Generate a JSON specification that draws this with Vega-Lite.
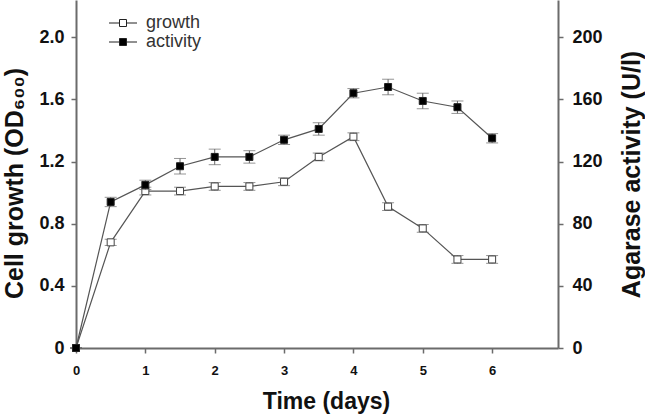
{
  "$schema": "https://vega.github.io/schema/vega-lite/v6.json",
  "width": 482,
  "height": 348,
  "autosize": {"type": "none"},
  "padding": {"left": 76, "top": 0, "right": 87, "bottom": 66},
  "background": "white",
  "config": {
    "view": {"stroke": null},
    "font": "Liberation Sans",
    "axis": {
      "grid": false,
      "labelFlush": false,
      "domainColor": "#6b6b6b",
      "domainWidth": 2,
      "tickColor": "#6b6b6b",
      "tickWidth": 1.5,
      "tickSize": 5,
      "labelFont": "Liberation Sans",
      "labelFontWeight": "bold",
      "labelColor": "#111",
      "titleFont": "Liberation Sans",
      "titleFontWeight": "bold",
      "titleFontSize": 25,
      "titleColor": "#111"
    }
  },
  "data": {
    "values": [
      {"t": 0, "series": "growth", "v": 0, "err": 0},
      {"t": 0.5, "series": "growth", "v": 0.68, "err": 0.02},
      {"t": 1, "series": "growth", "v": 1.01, "err": 0.025},
      {"t": 1.5, "series": "growth", "v": 1.01, "err": 0.025},
      {"t": 2, "series": "growth", "v": 1.04, "err": 0.025},
      {"t": 2.5, "series": "growth", "v": 1.04, "err": 0.025},
      {"t": 3, "series": "growth", "v": 1.07, "err": 0.025},
      {"t": 3.5, "series": "growth", "v": 1.23, "err": 0.025},
      {"t": 4, "series": "growth", "v": 1.36, "err": 0.025},
      {"t": 4.5, "series": "growth", "v": 0.91, "err": 0.025},
      {"t": 5, "series": "growth", "v": 0.77, "err": 0.025},
      {"t": 5.5, "series": "growth", "v": 0.57, "err": 0.025},
      {"t": 6, "series": "growth", "v": 0.57, "err": 0.025},
      {"t": 0, "series": "activity", "v": 0, "err": 0},
      {"t": 0.5, "series": "activity", "v": 94, "err": 3},
      {"t": 1, "series": "activity", "v": 105, "err": 3},
      {"t": 1.5, "series": "activity", "v": 117, "err": 5},
      {"t": 2, "series": "activity", "v": 123, "err": 5},
      {"t": 2.5, "series": "activity", "v": 123, "err": 4},
      {"t": 3, "series": "activity", "v": 134, "err": 3},
      {"t": 3.5, "series": "activity", "v": 141, "err": 4},
      {"t": 4, "series": "activity", "v": 164, "err": 3},
      {"t": 4.5, "series": "activity", "v": 168, "err": 5},
      {"t": 5, "series": "activity", "v": 159, "err": 5},
      {"t": 5.5, "series": "activity", "v": 155, "err": 4},
      {"t": 6, "series": "activity", "v": 135, "err": 3}
    ]
  },
  "layer": [
    {
      "transform": [{"filter": "datum.series == 'growth'"}],
      "encoding": {
        "x": {
          "field": "t", "type": "quantitative",
          "scale": {"domain": [0, 6.95], "nice": false, "zero": false},
          "axis": {
            "values": [0, 1, 2, 3, 4, 5, 6],
            "format": "d",
            "labelFontSize": 13,
            "labelPadding": 11,
            "title": "Time (days)",
            "titleFontSize": 23,
            "titleX": 250,
            "titleY": 53,
            "titleAlign": "center",
            "titleBaseline": "middle"
          }
        },
        "y": {
          "field": "v", "type": "quantitative",
          "scale": {"domain": [0, 2.24], "nice": false},
          "axis": {
            "orient": "left",
            "values": [0, 0.4, 0.8, 1.2, 1.6, 2.0],
            "labelExpr": "datum.value == 0 ? '0' : format(datum.value, '.1f')",
            "labelFontSize": 18,
            "labelPadding": 7,
            "title": "Cell growth (OD₆₀₀)",
            "titleAngle": -90,
            "titleX": -62,
            "titleY": 183,
            "titleAlign": "center",
            "titleBaseline": "middle"
          }
        }
      },
      "layer": [
        {"mark": {"type": "line", "color": "#555", "strokeWidth": 1.2}},
        {
          "mark": {"type": "errorbar", "color": "#666", "thickness": 1, "ticks": {"size": 12, "thickness": 1, "color": "#666"}},
          "encoding": {"yError": {"field": "err"}}
        },
        {
          "mark": {"type": "point", "shape": "square", "size": 49, "filled": true, "stroke": "#444", "strokeWidth": 1, "opacity": 1},
          "encoding": {
            "fill": {
              "field": "series", "type": "nominal",
              "scale": {"domain": ["growth", "activity"], "range": ["white", "black"]},
              "legend": {
                "title": null,
                "orient": "none",
                "legendX": 38,
                "legendY": 14,
                "padding": 0,
                "symbolType": "M-2,0H-0.5M0.5,0H2M-0.5,-0.5H0.5V0.5H-0.5Z",
                "symbolSize": 196,
                "symbolStrokeColor": "#555",
                "symbolStrokeWidth": 1,
                "symbolOpacity": 1,
                "labelFont": "Liberation Sans",
                "labelFontSize": 18,
                "labelColor": "#333",
                "labelOffset": 14,
                "rowPadding": 1
              }
            }
          }
        }
      ]
    },
    {
      "transform": [{"filter": "datum.series == 'activity'"}],
      "encoding": {
        "x": {"field": "t", "type": "quantitative"},
        "y": {
          "field": "v", "type": "quantitative",
          "scale": {"domain": [0, 224], "nice": false},
          "axis": {
            "orient": "right",
            "values": [0, 40, 80, 120, 160, 200],
            "format": "d",
            "labelFontSize": 18,
            "labelPadding": 9,
            "title": "Agarase activity (U/l)",
            "titleAngle": -90,
            "titleX": 73,
            "titleY": 174,
            "titleAlign": "center",
            "titleBaseline": "middle"
          }
        }
      },
      "layer": [
        {"mark": {"type": "line", "color": "#555", "strokeWidth": 1.2}},
        {
          "mark": {"type": "errorbar", "color": "#666", "thickness": 1, "ticks": {"size": 12, "thickness": 1, "color": "#666"}},
          "encoding": {"yError": {"field": "err"}}
        },
        {
          "mark": {"type": "point", "shape": "square", "size": 49, "filled": true, "stroke": "#222", "strokeWidth": 1, "opacity": 1},
          "encoding": {
            "fill": {"field": "series", "type": "nominal"}
          }
        }
      ]
    }
  ],
  "resolve": {"scale": {"y": "independent"}}
}
